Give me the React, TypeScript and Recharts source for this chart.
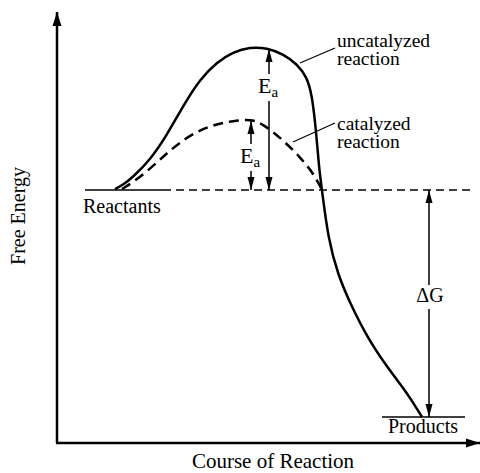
import React from 'react';
import { LineChart, Line, XAxis, YAxis, ReferenceLine, ReferenceDot } from 'recharts';

// Course of reaction (x) vs free energy (y), arbitrary units
const uncatalyzed = [
  { x: 58, y: 254 }, { x: 66, y: 258 }, { x: 76, y: 266 }, { x: 93, y: 283 }, { x: 110, y: 308 },
  { x: 126, y: 337 }, { x: 143, y: 364 }, { x: 160, y: 381 }, { x: 176, y: 391 },
  { x: 193, y: 396 }, { x: 210, y: 395 }, { x: 226, y: 389 }, { x: 240, y: 379 },
  { x: 250, y: 366 }, { x: 255, y: 348 }, { x: 259, y: 313 }, { x: 262, y: 275 },
  { x: 265, y: 253 }, { x: 271, y: 205 }, { x: 281, y: 168 }, { x: 293, y: 140 },
  { x: 310, y: 106 }, { x: 330, y: 76 }, { x: 350, y: 50 }, { x: 360, y: 34 }, { x: 365, y: 26 },
];
const catalyzed = [
  { x: 65, y: 254 }, { x: 75, y: 260 }, { x: 93, y: 274 }, { x: 110, y: 290 }, { x: 126, y: 303 },
  { x: 143, y: 313 }, { x: 160, y: 319 }, { x: 176, y: 322 }, { x: 194, y: 324 },
  { x: 206, y: 319 }, { x: 226, y: 303 }, { x: 243, y: 286 }, { x: 256, y: 270 },
  { x: 262, y: 259 }, { x: 265, y: 253 },
];
const reactantLevel = 253;
const productLevel = 26;
const uncatPeak = 394;
const catPeak = 322;
const eaUncatX = 212;
const eaCatX = 194;
const dGX = 372;

const font = '"Liberation Serif", "Times New Roman", serif';

const arrowShape = (startHead: boolean, endHead: boolean, sw: number, len: number, half: number) => (p: any) => {
  const { x1, y1, x2, y2 } = p;
  const dx = x2 - x1, dy = y2 - y1;
  const L = Math.sqrt(dx * dx + dy * dy) || 1;
  const ux = dx / L, uy = dy / L;
  const nx = -uy, ny = ux;
  const head = (tx: number, ty: number, dirx: number, diry: number) => {
    const bx = tx - dirx * len, by = ty - diry * len;
    return `M${tx},${ty} L${bx + nx * half},${by + ny * half} L${bx - nx * half},${by - ny * half} Z`;
  };
  return (
    <g>
      <line x1={x1} y1={y1} x2={x2} y2={y2} stroke="#000" strokeWidth={sw} />
      {endHead && <path d={head(x2, y2, ux, uy)} fill="#000" />}
      {startHead && <path d={head(x1, y1, -ux, -uy)} fill="#000" />}
    </g>
  );
};

const textShape = (txt: string, opts: { anchor?: string; size?: number; rotate?: boolean; bg?: number[] } = {}) => (p: any) => {
  const { cx, cy } = p;
  const size = opts.size ?? 19.5;
  return (
    <g>
      {opts.bg && <rect x={cx + opts.bg[0]} y={cy + opts.bg[1]} width={opts.bg[2]} height={opts.bg[3]} fill="#fff" />}
      <text
        x={cx}
        y={cy}
        textAnchor={opts.anchor ?? 'start'}
        fontFamily={font}
        fontSize={size}
        fill="#000"
        transform={opts.rotate ? `rotate(-90 ${cx} ${cy})` : undefined}
      >
        {txt}
      </text>
    </g>
  );
};

const eaShape = (p: any) => {
  const { cx, cy } = p;
  return (
    <g>
      <rect x={cx - 12} y={cy - 19} width={25} height={27} fill="#fff" />
      <text x={cx - 11} y={cy} fontFamily={font} fontSize={22} fill="#000">
        E<tspan fontSize={15} dy={4}>a</tspan>
      </text>
    </g>
  );
};

export default function App() {
  return (
    <div style={{ position: 'absolute', left: 0, top: 0, background: '#fff' }}>
      <LineChart width={480} height={473} data={uncatalyzed} margin={{ top: 12, right: 0, bottom: 30, left: 57 }}>
        <XAxis dataKey="x" type="number" domain={[0, 423]} hide allowDataOverflow />
        <YAxis type="number" domain={[0, 431]} hide allowDataOverflow />

        {/* axes */}
        <ReferenceLine ifOverflow="visible" segment={[{ x: 0, y: 0 }, { x: 0, y: 431 }]} shape={arrowShape(false, true, 2.5, 14, 4.5)} />
        <ReferenceLine ifOverflow="visible" segment={[{ x: -1, y: 0 }, { x: 423, y: 0 }]} shape={arrowShape(false, true, 2.5, 14, 4.5)} />

        {/* reactant level */}
        <ReferenceLine ifOverflow="visible" segment={[{ x: 28, y: reactantLevel }, { x: 106, y: reactantLevel }]} stroke="#000" strokeWidth={1.5} />
        <ReferenceLine ifOverflow="visible" segment={[{ x: 106, y: reactantLevel }, { x: 413, y: reactantLevel }]} stroke="#000" strokeWidth={1.5} strokeDasharray="8 5" />
        {/* product level */}
        <ReferenceLine ifOverflow="visible" segment={[{ x: 325, y: productLevel }, { x: 408, y: productLevel }]} stroke="#000" strokeWidth={1.5} />

        {/* leader lines */}
        <ReferenceLine ifOverflow="visible" segment={[{ x: 243, y: 380 }, { x: 278, y: 395 }]} stroke="#000" strokeWidth={1.2} />
        <ReferenceLine ifOverflow="visible" segment={[{ x: 236, y: 301 }, { x: 278, y: 320 }]} stroke="#000" strokeWidth={1.2} />

        {/* arrows */}
        <ReferenceLine ifOverflow="visible" segment={[{ x: eaUncatX, y: reactantLevel }, { x: eaUncatX, y: uncatPeak }]} shape={arrowShape(true, true, 1.5, 13, 3.5)} />
        <ReferenceLine ifOverflow="visible" segment={[{ x: eaCatX, y: reactantLevel }, { x: eaCatX, y: catPeak }]} shape={arrowShape(true, true, 1.5, 13, 3.5)} />
        <ReferenceLine ifOverflow="visible" segment={[{ x: dGX, y: productLevel }, { x: dGX, y: reactantLevel }]} shape={arrowShape(true, true, 1.5, 13, 3.5)} />

        <Line data={catalyzed} dataKey="y" type="basis" dot={false} activeDot={false} stroke="#000" strokeWidth={2.5} strokeDasharray="10 6" isAnimationActive={false} />
        <Line data={uncatalyzed} dataKey="y" type="basis" dot={false} activeDot={false} stroke="#000" strokeWidth={2.5} isAnimationActive={false} />

        {/* labels */}
        <ReferenceDot ifOverflow="visible" x={eaUncatX} y={350} shape={eaShape} />
        <ReferenceDot ifOverflow="visible" x={eaCatX} y={280} shape={eaShape} />
        <ReferenceDot ifOverflow="visible" x={dGX + 1} y={141} shape={textShape('ΔG', { anchor: 'middle', size: 20, bg: [-15, -17, 30, 24] })} />
        <ReferenceDot ifOverflow="visible" x={280} y={396} shape={textShape('uncatalyzed')} />
        <ReferenceDot ifOverflow="visible" x={280} y={378} shape={textShape('reaction')} />
        <ReferenceDot ifOverflow="visible" x={280} y={313} shape={textShape('catalyzed')} />
        <ReferenceDot ifOverflow="visible" x={280} y={295} shape={textShape('reaction')} />
        <ReferenceDot ifOverflow="visible" x={26} y={230} shape={textShape('Reactants', { size: 20 })} />
        <ReferenceDot ifOverflow="visible" x={331} y={10} shape={textShape('Products', { size: 20 })} />
        <ReferenceDot ifOverflow="visible" x={216} y={-25} shape={textShape('Course of Reaction', { anchor: 'middle', size: 21 })} />
        <ReferenceDot ifOverflow="visible" x={-32} y={227} shape={textShape('Free Energy', { anchor: 'middle', size: 20, rotate: true })} />
      </LineChart>
    </div>
  );
}
